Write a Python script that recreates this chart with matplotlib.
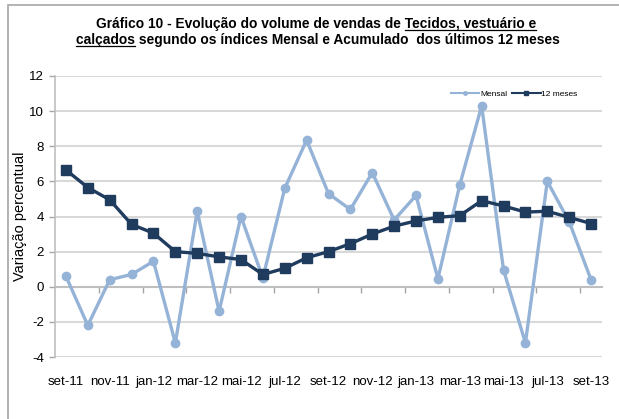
import matplotlib
matplotlib.use("Agg")
import matplotlib.pyplot as plt
from matplotlib.lines import Line2D
from matplotlib.patches import Rectangle

plt.rcParams['font.family'] = ['Liberation Sans', 'DejaVu Sans']

# meses set-11 .. set-13
meses = ['set-11', 'out-11', 'nov-11', 'dez-11', 'jan-12', 'fev-12', 'mar-12',
         'abr-12', 'mai-12', 'jun-12', 'jul-12', 'ago-12', 'set-12', 'out-12',
         'nov-12', 'dez-12', 'jan-13', 'fev-13', 'mar-13', 'abr-13', 'mai-13',
         'jun-13', 'jul-13', 'ago-13', 'set-13']
mensal = [0.6, -2.2, 0.4, 0.7, 1.45, -3.2, 4.3, -1.4, 4.0, 0.5, 5.6, 8.35,
          5.3, 4.4, 6.5, 3.8, 5.2, 0.45, 5.8, 10.3, 0.95, -3.2, 6.0, 3.7, 0.4]
doze_meses = [6.65, 5.65, 4.95, 3.55, 3.05, 2.0, 1.9, 1.7, 1.55, 0.7, 1.05, 1.65,
              2.0, 2.45, 3.0, 3.45, 3.75, 3.95, 4.05, 4.9, 4.6, 4.25, 4.3, 3.95, 3.6]
y_ticks = [-4, -2, 0, 2, 4, 6, 8, 10, 12]

W, H = 619, 419
fig = plt.figure(figsize=(W / 100, H / 100), dpi=100)
fig.patch.set_facecolor('white')

# moldura cinza (so esquerda e topo aparecem)
fig.patches.append(Rectangle((8 / W, -0.5), 2, 1.5 - 5 / H, transform=fig.transFigure,
                             fill=False, edgecolor='#a6a6a6', linewidth=1.2))

ax = fig.add_axes([55 / W, 1 - 357 / H, (602 - 55) / W, (357 - 76) / H])
x = list(range(len(meses)))

ax.plot(x, mensal, color='#95b3d7', lw=2.4, marker='o', ms=6, zorder=3, label='Mensal')
ax.plot(x, doze_meses, color='#1f3b5e', lw=2.4, marker='s', ms=6.5, zorder=4, label='12 meses')

ax.set_xlim(-0.5, len(meses) - 0.5)
ax.set_ylim(-4, 12)
ax.set_yticks(y_ticks)
ax.set_yticklabels([str(v) for v in y_ticks], fontsize=9.5)
ax.set_xticks(x[::2])
ax.set_xticklabels(meses[::2], fontsize=9.5)
ax.tick_params(axis='x', which='major', length=0, pad=14)
ax.tick_params(axis='y', length=4, color='#a6a6a6', width=1, pad=4)

for v in y_ticks:
    if v != 0:
        ax.axhline(v, color='#d9d9d9', lw=1.5, zorder=0)
for s in ['top', 'right', 'bottom']:
    ax.spines[s].set_visible(False)
ax.spines['left'].set_color('#bfbfbf')
ax.spines['left'].set_linewidth(1.2)

# eixo de categorias na linha do zero, com marcas entre pares de meses
y0 = (0 - y_ticks[0]) / (y_ticks[-1] - y_ticks[0])
sec = ax.secondary_xaxis(y0)
sec.set_xticks([i + 1.5 for i in x[::2][:-1]])
sec.set_xticklabels([])
sec.tick_params(axis='x', direction='out', length=4, color='#a6a6a6', width=1)
sec.spines['bottom'].set_color('#bfbfbf')
sec.spines['bottom'].set_linewidth(1.5)
sec.set_zorder(1)

ax.set_ylabel('Variação percentual', fontsize=10.5)
ax.yaxis.set_label_coords(-28 / (602 - 55), 0.5)

handles = [Line2D([], [], color='#95b3d7', lw=1.5, marker='o', ms=2.5),
           Line2D([], [], color='#1f3b5e', lw=1.5, marker='s', ms=3)]
fig.legend(handles, ['Mensal', '12 meses'], loc='center left',
           bbox_to_anchor=(451 / W, 1 - 94 / H), ncol=2, frameon=False,
           fontsize=6, handlelength=3.4, handletextpad=0.1, columnspacing=0.6,
           borderpad=0, borderaxespad=0)

# titulo em duas linhas, com partes sublinhadas
linha1 = 'Gráfico 10 - Evolução do volume de vendas de Tecidos, vestuário e'
sub1 = 'Tecidos, vestuário e'
linha2 = 'calçados segundo os índices Mensal e Acumulado  dos últimos 12 meses'
sub2 = 'calçados'
tfs = 9.9
t1 = fig.text(96 / W, 1 - 28 / H, linha1, fontsize=tfs, fontweight='bold', ha='left', va='baseline')
t2 = fig.text(76 / W, 1 - 44 / H, linha2, fontsize=tfs, fontweight='bold', ha='left', va='baseline')

fig.canvas.draw()
r = fig.canvas.get_renderer()
m1 = fig.text(0, 0, sub1, fontsize=tfs, fontweight='bold')
m2 = fig.text(0, 0, sub2, fontsize=tfs, fontweight='bold')
b1 = t1.get_window_extent(r)
b2 = t2.get_window_extent(r)
w1 = m1.get_window_extent(r).width
w2 = m2.get_window_extent(r).width
m1.remove()
m2.remove()
uy1 = (H - 30.5) / H
uy2 = (H - 46.5) / H
fig.add_artist(Line2D([(b1.x1 - w1) / W, b1.x1 / W], [uy1, uy1], color='black', lw=0.9,
                      transform=fig.transFigure))
fig.add_artist(Line2D([b2.x0 / W, (b2.x0 + w2) / W], [uy2, uy2], color='black', lw=0.9,
                      transform=fig.transFigure))

fig.savefig('out.png', dpi=100)
